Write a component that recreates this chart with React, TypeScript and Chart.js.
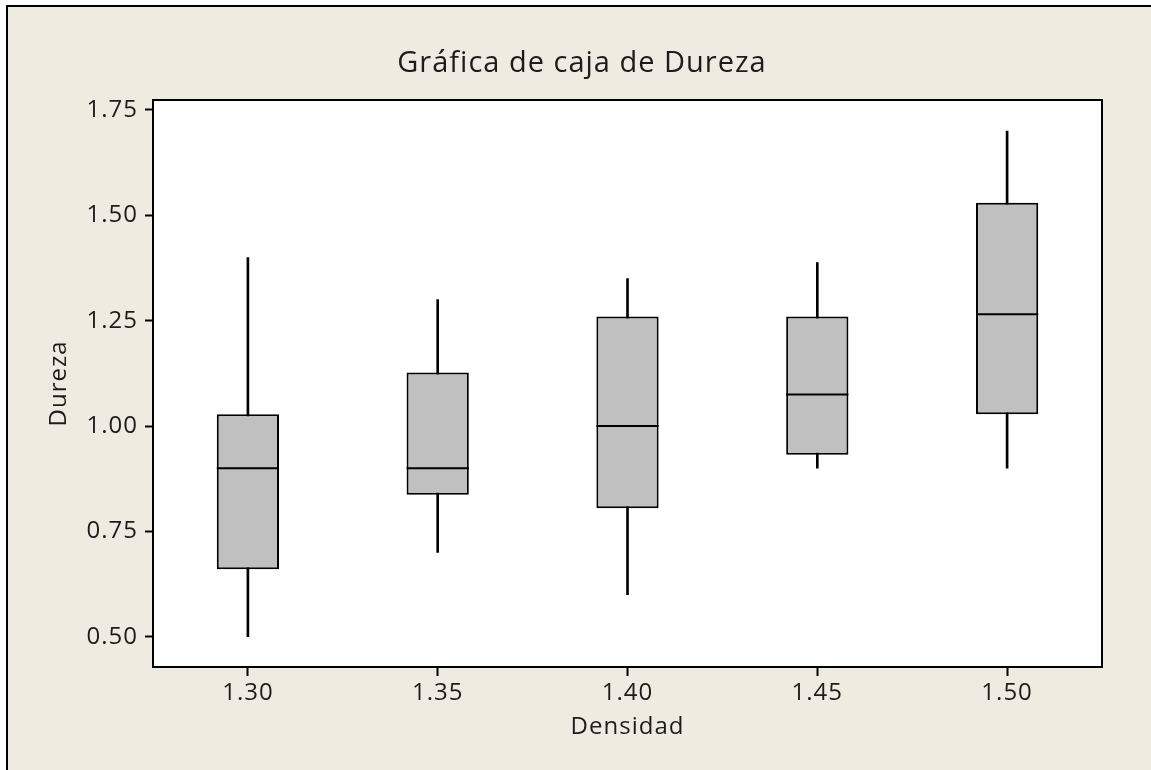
import React, { useEffect, useRef } from 'react';
import { Chart, registerables } from 'chart.js';

Chart.register(...registerables);

const categories = ['1.30', '1.35', '1.40', '1.45', '1.50'];
const whiskerLow = [0.5, 0.7, 0.6, 0.9, 0.9];
const quartile1 = [0.66, 0.837, 0.805, 0.932, 1.028];
const medians = [0.9, 0.9, 1.0, 1.075, 1.265];
const quartile3 = [1.028, 1.127, 1.26, 1.26, 1.53];
const whiskerHigh = [1.4, 1.3, 1.35, 1.388, 1.7];
const yTicks = [0.5, 0.75, 1.0, 1.25, 1.5, 1.75];

const titleText = 'Gráfica de caja de Dureza';
const xTitle = 'Densidad';
const yTitle = 'Dureza';

const W = 1151;
const H = 770;
const FONT = '"Open Sans", "DejaVu Sans", sans-serif';
const BG = '#EFEBE1';
const TEXT = '#1c1c1c';
const SIZE = 24;

export default function App() {
  const ref = useRef<HTMLCanvasElement>(null);

  useEffect(() => {
    const canvas = ref.current!;

    const spacingPlugin = {
      id: 'spacing',
      beforeLayout(c: any) {
        c.ctx.letterSpacing = '1px';
      },
      beforeDraw(c: any) {
        c.ctx.letterSpacing = '1px';
      },
    };

    const bgPlugin = {
      id: 'bgFrame',
      beforeDraw(c: any) {
        const ctx = c.ctx;
        const { left, top, right, bottom } = c.chartArea;
        ctx.save();
        ctx.fillStyle = '#ffffff';
        ctx.fillRect(0, 0, W, H);
        ctx.fillStyle = BG;
        ctx.fillRect(7, 6, W, H);
        ctx.strokeStyle = '#000';
        ctx.lineWidth = 2;
        ctx.beginPath();
        ctx.moveTo(7, H);
        ctx.lineTo(7, 6);
        ctx.lineTo(W, 6);
        ctx.stroke();
        ctx.fillStyle = '#ffffff';
        ctx.fillRect(left, top, right - left, bottom - top);
        ctx.restore();
      },
      afterDraw(c: any) {
        const ctx = c.ctx;
        const { left, top, right, bottom } = c.chartArea;
        ctx.save();
        ctx.strokeStyle = '#000';
        ctx.lineWidth = 2;
        ctx.strokeRect(left, top, right - left, bottom - top);
        ctx.font = `29px ${FONT}`;
        ctx.fillStyle = TEXT;
        ctx.textAlign = 'center';
        ctx.textBaseline = 'alphabetic';
        ctx.letterSpacing = '1px';
        ctx.fillText(titleText, 582, 72);
        ctx.restore();
      },
    };

    const medianPlugin = {
      id: 'medians',
      afterDatasetsDraw(c: any) {
        const ctx = c.ctx;
        const meta = c.getDatasetMeta(0);
        const yScale = c.scales.y;
        ctx.save();
        ctx.strokeStyle = '#000';
        ctx.lineWidth = 2;
        medians.forEach((m, i) => {
          const el = meta.data[i];
          if (!el) return;
          const y = yScale.getPixelForValue(m);
          ctx.beginPath();
          ctx.moveTo(el.x - el.width / 2, y);
          ctx.lineTo(el.x + el.width / 2, y);
          ctx.stroke();
        });
        ctx.restore();
      },
    };

    const chart = new Chart(canvas, {
      type: 'bar',
      data: {
        labels: categories,
        datasets: [
          {
            label: 'Caja',
            data: categories.map((_, i) => [quartile1[i], quartile3[i]]) as any,
            backgroundColor: '#C0C0C0',
            borderColor: '#000',
            borderWidth: 2,
            borderSkipped: false,
            grouped: false,
            barPercentage: 0.328,
            categoryPercentage: 1,
            order: 0,
          } as any,
          {
            label: 'Bigotes',
            data: categories.map((_, i) => [whiskerLow[i], whiskerHigh[i]]) as any,
            backgroundColor: '#000',
            borderWidth: 0,
            grouped: false,
            barThickness: 2,
            order: 1,
          } as any,
        ],
      },
      options: {
        responsive: false,
        animation: false,
        devicePixelRatio: 1,
        layout: { padding: { left: 0, top: 100, right: 49, bottom: 0 } },
        plugins: {
          legend: { display: false },
          tooltip: { enabled: false },
          title: { display: false },
        },
        scales: {
          x: {
            type: 'category',
            offset: true,
            grid: {
              display: true,
              drawOnChartArea: false,
              offset: false,
              tickLength: 9,
              tickWidth: 2,
              tickColor: '#000',
            },
            border: { display: false },
            ticks: {
              color: TEXT,
              font: { family: FONT, size: SIZE },
              padding: 3,
              maxRotation: 0,
            },
            title: {
              display: true,
              text: xTitle,
              color: TEXT,
              font: { family: FONT, size: SIZE },
              padding: { top: 0, bottom: 28 },
            },
            afterFit(s: any) {
              s.height = H - 667;
            },
          } as any,
          y: {
            type: 'linear',
            min: 0.4281,
            max: 1.7737,
            afterBuildTicks(s: any) {
              s.ticks = yTicks.map((v) => ({ value: v }));
            },
            grid: {
              display: true,
              drawOnChartArea: false,
              tickLength: 8,
              tickWidth: 2,
              tickColor: '#000',
            },
            border: { display: false },
            ticks: {
              color: TEXT,
              font: { family: FONT, size: SIZE },
              padding: 7,
              callback: (v: any) => Number(v).toFixed(2),
            },
            title: {
              display: true,
              text: yTitle,
              color: TEXT,
              font: { family: FONT, size: SIZE },
              padding: { top: 45, bottom: 0 },
            },
            afterFit(s: any) {
              s.width = 153;
            },
          } as any,
        },
      },
      plugins: [spacingPlugin, bgPlugin, medianPlugin],
    });

    return () => chart.destroy();
  }, []);

  return (
    <div style={{ position: 'fixed', left: 0, top: 0, width: W, height: H }}>
      <canvas ref={ref} width={W} height={H} style={{ display: 'block', width: W, height: H }} />
    </div>
  );
}
